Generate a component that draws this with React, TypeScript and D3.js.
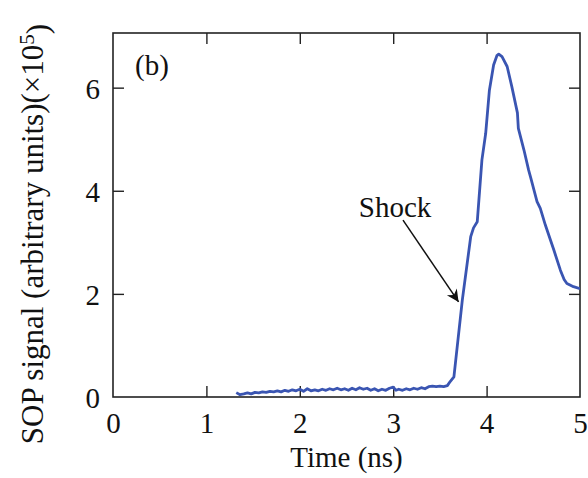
import React, { useRef, useEffect } from 'react';
import * as d3 from 'd3';

// time (ns) and SOP signal (x1e5)
const timeNs = [
  1.32, 1.36, 1.40, 1.44, 1.48, 1.52, 1.56, 1.60, 1.64, 1.68, 1.72, 1.76, 1.80, 1.84, 1.88, 1.92, 1.96,
  2.00, 2.04, 2.08, 2.12, 2.16, 2.20, 2.24, 2.28, 2.32, 2.36, 2.40, 2.44, 2.48, 2.52, 2.56, 2.60, 2.64,
  2.68, 2.72, 2.76, 2.80, 2.84, 2.88, 2.92, 2.96, 3.00, 3.03, 3.06, 3.10, 3.14, 3.18, 3.22, 3.26, 3.30,
  3.34, 3.38, 3.42, 3.46, 3.50, 3.54, 3.58, 3.61, 3.65, 3.74, 3.83, 3.86, 3.90, 3.95, 3.99, 4.03, 4.075,
  4.11, 4.13, 4.165, 4.22, 4.27, 4.33, 4.34, 4.40, 4.45, 4.47, 4.54, 4.575, 4.63, 4.72, 4.79, 4.83, 4.86,
  4.93, 5.0
];
const sopSignal = [
  0.085, 0.045, 0.06, 0.08, 0.06, 0.09, 0.08, 0.10, 0.09, 0.11, 0.10, 0.12, 0.10, 0.13, 0.11, 0.14, 0.12,
  0.15, 0.11, 0.16, 0.12, 0.14, 0.12, 0.15, 0.13, 0.16, 0.14, 0.17, 0.14, 0.16, 0.13, 0.17, 0.14, 0.18,
  0.15, 0.17, 0.13, 0.16, 0.12, 0.15, 0.13, 0.17, 0.19, 0.13, 0.15, 0.13, 0.16, 0.14, 0.17, 0.15, 0.18,
  0.16, 0.20, 0.21, 0.20, 0.21, 0.20, 0.22, 0.30, 0.39, 1.88, 3.11, 3.28, 3.40, 4.60, 5.11, 5.95, 6.44,
  6.62, 6.65, 6.60, 6.41, 6.02, 5.51, 5.21, 4.79, 4.40, 4.27, 3.79, 3.66, 3.33, 2.85, 2.46, 2.28, 2.20,
  2.14, 2.10
];

const xTicks = [0, 1, 2, 3, 4, 5];
const yTicks = [0, 2, 4, 6];

// annotation: arrow from text to the shock front
const shockLabel = { t: 3.02, v: 3.5, text: 'Shock' };
const shockArrow = { from: [3.105, 3.43], to: [3.70, 1.845] };

const App = () => {
  const svgRef = useRef();

  const totalWidth = 588;
  const totalHeight = 478;
  const margin = { top: 33, right: 8, bottom: 81, left: 113 };
  const width = totalWidth - margin.left - margin.right;
  const height = totalHeight - margin.top - margin.bottom;
  const font = '"Liberation Serif", "Times New Roman", serif';
  const lineColor = '#3a55b2';
  const fs = '29px';

  useEffect(() => {
    const svg = d3.select(svgRef.current);
    svg.selectAll('*').remove();

    const x = d3.scaleLinear().domain([0, 5]).range([0, width]);
    const y = d3.scaleLinear().domain([0, 7.06]).range([height, 0]);

    const g = svg.append('g').attr('transform', `translate(${margin.left},${margin.top})`);

    g.append('defs').append('clipPath').attr('id', 'plot-clip')
      .append('rect').attr('width', width).attr('height', height);

    svg.append('defs').append('marker')
      .attr('id', 'arrowhead')
      .attr('viewBox', '0 0 10 10')
      .attr('refX', 10).attr('refY', 5)
      .attr('markerWidth', 16).attr('markerHeight', 12)
      .attr('markerUnits', 'userSpaceOnUse')
      .attr('orient', 'auto')
      .append('path').attr('d', 'M0,0 L10,5 L0,10 L3,5 Z').attr('fill', '#111');

    const tickLen = 11;
    const inner = yTicks.filter(d => d > 0);
    const innerX = xTicks.filter(d => d > 0 && d < 5);

    const styleAxis = (sel, labels) => {
      sel.select('.domain').remove();
      sel.selectAll('line').attr('stroke', '#222').attr('stroke-width', 1.4);
      sel.selectAll('text')
        .style('font-family', font)
        .style('font-size', fs)
        .attr('fill', '#111');
      if (!labels) sel.selectAll('text').remove();
    };

    g.append('g').attr('transform', `translate(0,${height})`)
      .call(d3.axisBottom(x).tickValues(xTicks).tickSizeInner(-tickLen).tickSizeOuter(0).tickPadding(15).tickFormat(d3.format('d')))
      .call(sel => styleAxis(sel, true))
      .call(sel => sel.selectAll('.tick').filter(d => d === 0 || d === 5).select('line').remove());

    g.append('g')
      .call(d3.axisTop(x).tickValues(innerX).tickSizeInner(-tickLen).tickSizeOuter(0))
      .call(sel => styleAxis(sel, false));

    g.append('g')
      .call(d3.axisLeft(y).tickValues(yTicks).tickSizeInner(-tickLen).tickSizeOuter(0).tickPadding(13).tickFormat(d3.format('d')))
      .call(sel => styleAxis(sel, true))
      .call(sel => sel.selectAll('.tick').filter(d => d === 0).select('line').remove())
      .call(sel => sel.selectAll('text').attr('dy', '0.36em'));

    g.append('g').attr('transform', `translate(${width},0)`)
      .call(d3.axisRight(y).tickValues(inner).tickSizeInner(-tickLen).tickSizeOuter(0))
      .call(sel => styleAxis(sel, false));

    g.append('rect')
      .attr('width', width).attr('height', height)
      .attr('fill', 'none').attr('stroke', '#222').attr('stroke-width', 1.6);

    const line = d3.line()
      .x((d, i) => x(timeNs[i]))
      .y(d => y(d));

    g.append('path')
      .datum(sopSignal)
      .attr('clip-path', 'url(#plot-clip)')
      .attr('d', line)
      .attr('fill', 'none')
      .attr('stroke', lineColor)
      .attr('stroke-width', 2.8)
      .attr('stroke-linejoin', 'round');

    g.append('line')
      .attr('x1', x(shockArrow.from[0])).attr('y1', y(shockArrow.from[1]))
      .attr('x2', x(shockArrow.to[0])).attr('y2', y(shockArrow.to[1]))
      .attr('stroke', '#111').attr('stroke-width', 1.5)
      .attr('marker-end', 'url(#arrowhead)');

    g.append('text')
      .attr('x', x(shockLabel.t)).attr('y', y(shockLabel.v))
      .attr('text-anchor', 'middle')
      .style('font-family', font).style('font-size', fs).attr('fill', '#111')
      .text(shockLabel.text);

    g.append('text')
      .attr('x', 22).attr('y', 42)
      .style('font-family', font).style('font-size', fs).attr('fill', '#111')
      .text('(b)');

    g.append('text')
      .attr('x', width / 2).attr('y', height + 70)
      .attr('text-anchor', 'middle')
      .style('font-family', font).style('font-size', fs).attr('fill', '#111')
      .text('Time (ns)');

    const yl = svg.append('text')
      .attr('transform', `translate(43,234) rotate(-90)`)
      .attr('text-anchor', 'middle')
      .style('font-family', font).style('font-size', '31px').attr('fill', '#111');
    yl.append('tspan').text('SOP signal (arbitrary units)(×10');
    yl.append('tspan').attr('dy', '-0.45em').style('font-size', '21px').text('5');
    yl.append('tspan').attr('dy', '0.45em').text(')');
  }, []);

  return (
    <svg
      ref={svgRef}
      width={totalWidth}
      height={totalHeight}
      style={{ position: 'absolute', left: 0, top: 0, background: 'white' }}
    ></svg>
  );
};

export default App;
